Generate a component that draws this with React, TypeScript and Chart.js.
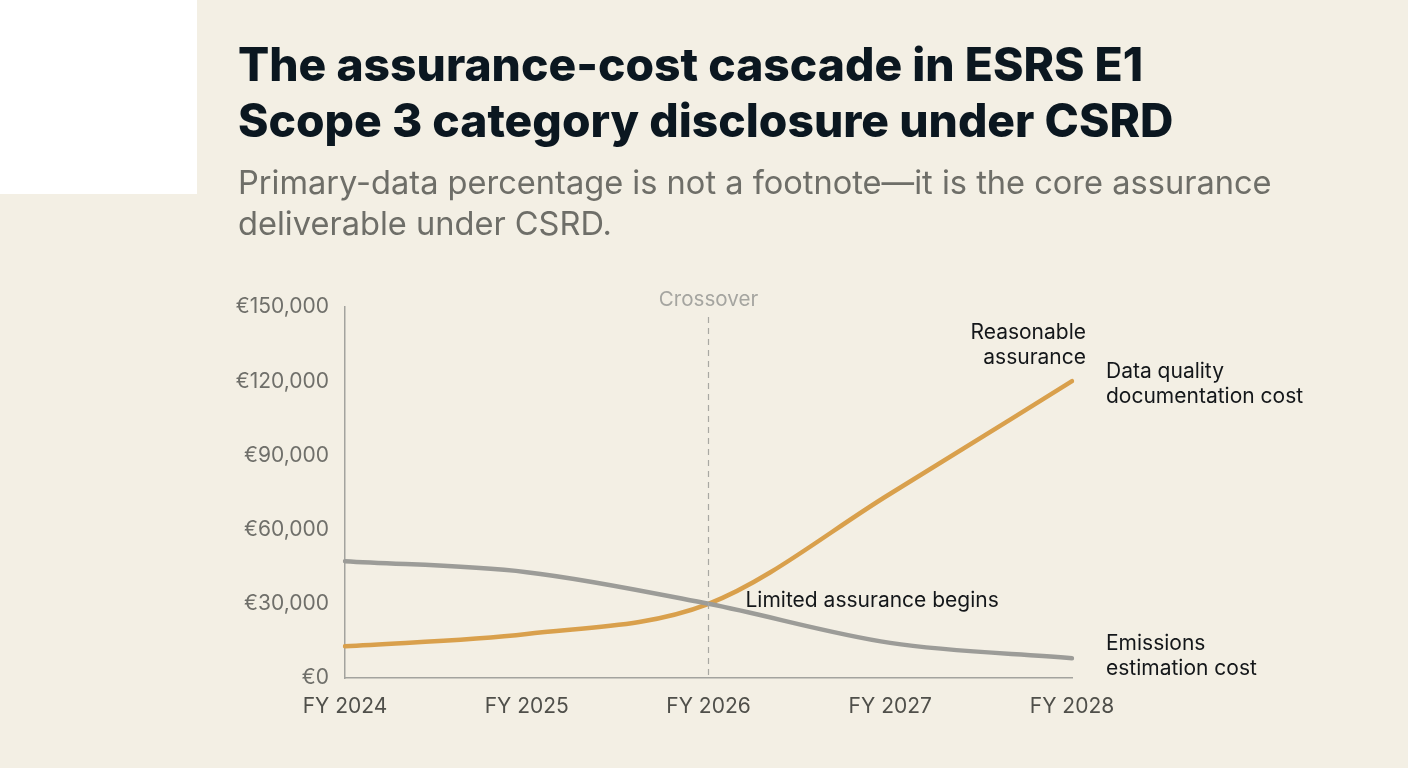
import React, { useEffect, useRef } from 'react';
import Chart from 'chart.js/auto';

const years = ['FY 2024', 'FY 2025', 'FY 2026', 'FY 2027', 'FY 2028'];
const documentationCost = [12800, 17800, 30000, 74500, 120000];
const estimationCost = [47200, 42800, 30000, 14200, 8000];
const titleLines = ['The assurance-cost cascade in ESRS E1', 'Scope 3 category disclosure under CSRD'];
const subtitleLines = ['Primary-data percentage is not a footnote\u2014it is the core assurance', 'deliverable under CSRD.'];

const crossoverIndex = 2;
const crossoverLabel = 'Crossover';
const crossoverTop = 146000;

const BG = '#f3efe4';
const ORANGE = '#d9a04c';
const GREY = '#9c9c98';
const FONT = 'Inter, sans-serif';

// text next to the lines: index + value on the scales, then a pixel nudge
const notes = [
  { lines: ['Reasonable', 'assurance'], index: 4, value: 120000, dx: 14, dy: -49, align: 'right' },
  { lines: ['Data quality', 'documentation cost'], index: 4, value: 120000, dx: 34, dy: -10, align: 'left' },
  { lines: ['Limited assurance begins'], index: 2, value: 30000, dx: 37, dy: -3, align: 'left' },
  { lines: ['Emissions', 'estimation cost'], index: 4, value: 8000, dx: 34, dy: -15, align: 'left' },
];

const annotations = {
  id: 'annotations',
  afterDatasetsDraw(chart: any) {
    const { ctx, scales } = chart;
    const x = scales.x.getPixelForValue(crossoverIndex);
    ctx.save();

    ctx.strokeStyle = '#a8a8a2';
    ctx.lineWidth = 1.2;
    ctx.setLineDash([6, 5]);
    ctx.beginPath();
    ctx.moveTo(x, scales.y.getPixelForValue(crossoverTop));
    ctx.lineTo(x, scales.y.getPixelForValue(0));
    ctx.stroke();
    ctx.setLineDash([]);

    ctx.textBaseline = 'middle';
    ctx.font = `20.6px ${FONT}`;
    ctx.fillStyle = '#a5a5a0';
    ctx.textAlign = 'center';
    ctx.fillText(crossoverLabel, x, scales.y.getPixelForValue(150000) - 7);

    ctx.font = `21px ${FONT}`;
    ctx.fillStyle = '#14171a';
    notes.forEach((note) => {
      const nx = scales.x.getPixelForValue(note.index) + note.dx;
      const ny = scales.y.getPixelForValue(note.value) + note.dy;
      ctx.textAlign = note.align;
      note.lines.forEach((line, i) => ctx.fillText(line, nx, ny + i * 25));
    });
    ctx.restore();
  },
};

const App: React.FC = () => {
  const chartRef = useRef<HTMLCanvasElement | null>(null);

  useEffect(() => {
    document.body.style.margin = '0';
    document.body.style.background = BG;
    const ctx = chartRef.current?.getContext('2d');
    if (!ctx) return;

    const chart = new Chart(ctx, {
      type: 'line',
      data: {
        labels: years,
        datasets: [
          {
            label: 'Emissions estimation cost',
            data: estimationCost,
            borderColor: GREY,
            borderWidth: 4.5,
            borderCapStyle: 'round',
            cubicInterpolationMode: 'monotone',
            pointRadius: 0,
          },
          {
            label: 'Data quality documentation cost',
            data: documentationCost,
            borderColor: ORANGE,
            borderWidth: 4.5,
            borderCapStyle: 'round',
            cubicInterpolationMode: 'monotone',
            pointRadius: 0,
          },
        ],
      },
      options: {
        animation: false,
        responsive: false,
        layout: { padding: { left: 205, right: 336, top: 307, bottom: 50 } },
        plugins: { legend: { display: false }, tooltip: { enabled: false } },
        scales: {
          x: {
            offset: false,
            grid: { display: false, drawTicks: false },
            border: { color: '#a3a39e', width: 1.5 },
            ticks: { color: '#4f4f4a', font: { family: FONT, size: 21 }, padding: 16, maxRotation: 0 },
            afterFit: (axis: any) => { axis.height = 40; },
          },
          y: {
            min: 0,
            max: 150000,
            grid: { display: false, drawTicks: false },
            border: { color: '#a3a39e', width: 1.5 },
            ticks: {
              stepSize: 30000,
              color: '#6f6f6a',
              font: { family: FONT, size: 21 },
              padding: 16,
              callback: (value) => `€${Number(value).toLocaleString('en-US')}`,
            },
            afterFit: (axis: any) => { axis.width = 140; },
          },
        },
      },
      plugins: [annotations],
    });

    return () => chart.destroy();
  }, []);

  return (
    <div style={{ position: 'relative', width: 1408, height: 768, background: BG, overflow: 'hidden', fontFamily: FONT }}>
      <div style={{ position: 'absolute', left: 0, top: 0, width: 197, height: 194, background: '#fff' }} />
      <canvas ref={chartRef} width={1408} height={768} style={{ position: 'absolute', left: 0, top: 0 }} />
      <div style={{ position: 'absolute', left: 238, top: 36, fontSize: 46.2, lineHeight: '56px', fontWeight: 800, color: '#0b1720', whiteSpace: 'nowrap' }}>
        {titleLines.map((line) => <div key={line}>{line}</div>)}
      </div>
      <div style={{ position: 'absolute', left: 238, top: 162, fontSize: 32.6, lineHeight: '41px', color: '#6e6e68', whiteSpace: 'nowrap' }}>
        {subtitleLines.map((line) => <div key={line}>{line}</div>)}
      </div>
    </div>
  );
};

export default App;
